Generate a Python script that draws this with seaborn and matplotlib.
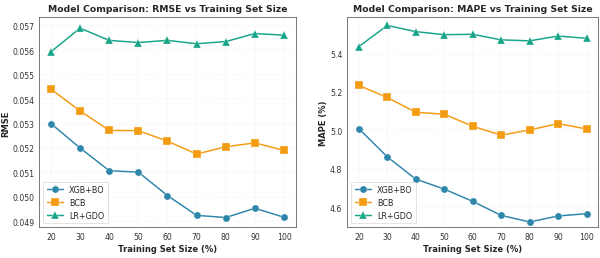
import numpy as np
import pandas as pd
import seaborn as sns
import matplotlib
matplotlib.use("Agg")
import matplotlib.pyplot as plt

# Eğitim seti boyutları (%)
train_sizes = [20, 30, 40, 50, 60, 70, 80, 90, 100]
models = ["XGB+BO", "BCB", "LR+GDO"]

# RMSE değerleri
rmse_xgb = [0.05300, 0.05200, 0.05107, 0.05101, 0.05005, 0.04924, 0.04915, 0.04953, 0.04916]
rmse_bcb = [0.05441, 0.05352, 0.05272, 0.05271, 0.05228, 0.05175, 0.05205, 0.05221, 0.05190]
rmse_lr = [0.05594, 0.05691, 0.05641, 0.05632, 0.05641, 0.05627, 0.05636, 0.05669, 0.05662]

# MAPE değerleri
mape_xgb = [5.009, 4.862, 4.746, 4.694, 4.630, 4.557, 4.523, 4.554, 4.566]
mape_bcb = [5.234, 5.171, 5.094, 5.084, 5.021, 4.975, 5.002, 5.035, 5.007]
mape_lr = [5.436, 5.546, 5.514, 5.498, 5.500, 5.471, 5.466, 5.491, 5.479]

colors = ["#2E86AB", "#F39C12", "#17A589"]
markers = ["o", "s", "^"]


def to_long(series, metric):
    rows = []
    for model, vals in zip(models, series):
        for size, v in zip(train_sizes, vals):
            rows.append({"Training Set Size (%)": size, "Model": model, metric: v})
    return pd.DataFrame(rows)


def draw(ax, df, metric, ylabel, title):
    sns.lineplot(data=df, x="Training Set Size (%)", y=metric, hue="Model",
                 style="Model", markers=dict(zip(models, markers)), dashes=False,
                 palette=dict(zip(models, colors)), linewidth=2.5, markersize=12,
                 markeredgewidth=0.5, ax=ax)
    ax.set_title(title, fontsize=15.5, fontweight="bold", pad=11)
    ax.set_xlabel("Training Set Size (%)", fontsize=14, fontweight="bold")
    ax.set_ylabel(ylabel, fontsize=14, fontweight="bold", labelpad=3)
    ax.set_xticks(train_sizes)
    ax.tick_params(labelsize=13, colors="#333333", length=5)
    ax.grid(True, linestyle="--", alpha=0.35)
    for s in ax.spines.values():
        s.set_edgecolor("#555555")
        s.set_linewidth(1.3)
    ax.legend(loc="lower left", fontsize=13.5, frameon=True, framealpha=0.9,
              edgecolor="#cccccc")


sns.set_style("whitegrid")
plt.rcParams["font.family"] = ["DejaVu Sans"]

fig = plt.figure(figsize=(14, 6.043), dpi=600 / 14)
ax1 = fig.add_axes([0.0655, 0.1185, 0.4273, 0.8105])
ax2 = fig.add_axes([0.579, 0.1185, 0.4177, 0.8105])

draw(ax1, to_long([rmse_xgb, rmse_bcb, rmse_lr], "RMSE"), "RMSE", "RMSE",
     "Model Comparison: RMSE vs Training Set Size")
ax1.set_yticks(np.arange(0.049, 0.0575, 0.001))
ax1.set_ylim(0.04875, 0.05735)

draw(ax2, to_long([mape_xgb, mape_bcb, mape_lr], "MAPE"), "MAPE", "MAPE (%)",
     "Model Comparison: MAPE vs Training Set Size")
ax2.set_yticks([4.6, 4.8, 5.0, 5.2, 5.4])
ax2.set_ylim(4.495, 5.588)

fig.savefig("out.png", dpi=600 / 14)
